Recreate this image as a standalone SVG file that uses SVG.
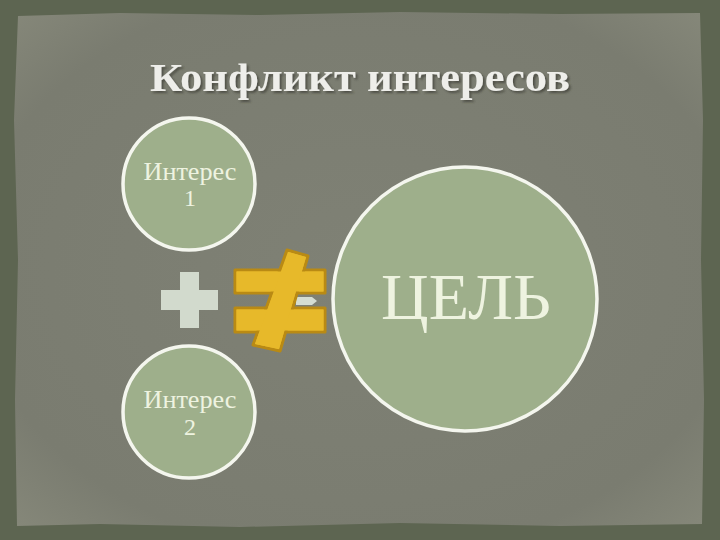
<svg xmlns="http://www.w3.org/2000/svg" width="720" height="540" viewBox="0 0 720 540">
<defs>
<style>
.node{fill:#9eaf8b;stroke:#f4f6ee;stroke-width:3.5}
.lbl{font-family:"Liberation Serif","DejaVu Serif",serif;fill:#eef3e0;text-anchor:middle}
.sign{fill:#e7b92a}
.signo{fill:#e7b92a;stroke:#b98a14;stroke-width:3;stroke-linejoin:round}
</style>
<radialGradient id="pg" cx="50%" cy="50%" r="70%">
<stop offset="0" stop-color="#7f8175"/>
<stop offset="0.8" stop-color="#7a7c70"/>
<stop offset="1" stop-color="#858779"/>
</radialGradient>
<filter id="sh" x="-10%" y="-30%" width="120%" height="160%">
<feDropShadow dx="2" dy="2" stdDeviation="1" flood-color="#3a3e33" flood-opacity="0.7"/>
</filter>
</defs>
<rect width="720" height="540" fill="#5d6551"/>
<path d="M18,16 L120,13 L260,15 L400,12 L560,14 L700,13 L703,120 L701,260 L704,400 L702,524 L560,526 L400,523 L240,527 L100,524 L17,526 L15,400 L18,260 L14,120 Z" fill="url(#pg)"/>
<text x="360" y="91" font-family="Liberation Serif,serif" font-size="40" font-weight="bold" fill="#eeeeea" text-anchor="middle" textLength="420" lengthAdjust="spacingAndGlyphs" filter="url(#sh)">Конфликт интересов</text>
<g id="connectors">
<polygon points="296,297 312,297 317,301 312,305 296,305" fill="#d5ddd2"/>
</g>
<g id="interest1">
<circle class="node" cx="189" cy="184" r="66"/>
<text class="lbl" x="190" y="180" font-size="25" textLength="93" lengthAdjust="spacingAndGlyphs">Интерес</text>
<text class="lbl" x="190" y="206" font-size="24">1</text>
</g>
<g id="interest2">
<circle class="node" cx="189" cy="412" r="66"/>
<text class="lbl" x="190" y="408" font-size="25" textLength="93" lengthAdjust="spacingAndGlyphs">Интерес</text>
<text class="lbl" x="190" y="435" font-size="24">2</text>
</g>
<g id="plus">
<path d="M180,272 H199 V290 H218 V310 H199 V328 H180 V310 H161 V290 H180 Z" fill="#d2dacd"/>
</g>
<g id="notequal">
<rect class="signo" x="235" y="270" width="90" height="23"/>
<rect class="signo" x="235" y="308" width="90" height="24"/>
<polygon class="signo" points="287,250 308,256 280,351 253,345"/>
<rect class="sign" x="236.5" y="271.5" width="87" height="20"/>
<rect class="sign" x="236.5" y="309.5" width="87" height="21"/>
<polygon class="sign" points="288.5,252 306,257 279,349 255,344"/>
</g>
<g id="goal">
<circle class="node" cx="465" cy="299" r="132"/>
<text class="lbl" x="466" y="319" font-size="66" fill="#f7f9f2">ЦЕЛЬ</text>
</g>
</svg>
